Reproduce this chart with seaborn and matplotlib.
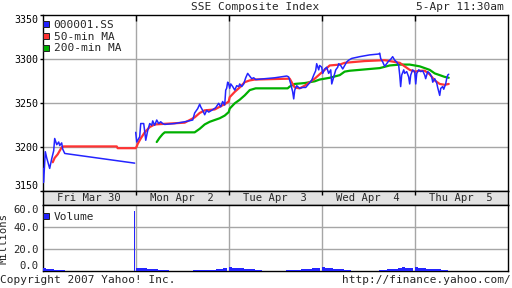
import numpy as np
import pandas as pd
import matplotlib
matplotlib.use("Agg")
import matplotlib.pyplot as plt
import seaborn as sns
from matplotlib.lines import Line2D

# ---------------- data ----------------
day_labels = ["Fri Mar 30", "Mon Apr  2", "Tue Apr  3", "Wed Apr  4", "Thu Apr  5"]
price_ticks = [3150, 3200, 3250, 3300, 3350]
volume_ticks = [0, 20, 40, 60]

# time axis: trading days since Fri Mar 30 open
price_fri_t = [0.004, 0.008, 0.016, 0.028, 0.043, 0.075, 0.097, 0.118, 0.129, 0.151, 0.172,
               0.183, 0.204, 0.215, 0.237, 0.989]
price_fri_v = [3176, 3160, 3172, 3195, 3188, 3176, 3187, 3196, 3210, 3203, 3206,
               3202, 3205, 3198, 3193, 3182]

price_t = [1.000, 1.011, 1.032, 1.043, 1.054, 1.086, 1.097, 1.108, 1.129, 1.151,
           1.172, 1.183, 1.204, 1.226, 1.247, 1.269, 1.290, 1.312, 1.419, 1.527,
           1.613, 1.634, 1.667, 1.688, 1.699, 1.720, 1.742, 1.763, 1.785, 1.817,
           1.860, 1.892, 1.914, 1.935, 1.957, 1.968, 1.978, 1.989,
           2.000, 2.011, 2.022, 2.043, 2.065, 2.086, 2.108, 2.118, 2.140, 2.161,
           2.183, 2.204, 2.226, 2.247, 2.269, 2.290, 2.387, 2.495, 2.624, 2.645,
           2.667, 2.688, 2.699, 2.710, 2.731, 2.763, 2.796, 2.828, 2.860, 2.892,
           2.914, 2.935, 2.946, 2.968, 2.978,
           3.000, 3.011, 3.032, 3.054, 3.075, 3.097, 3.108, 3.129, 3.151, 3.172,
           3.183, 3.204, 3.226, 3.247, 3.269, 3.290, 3.323, 3.409, 3.516, 3.613,
           3.624, 3.634, 3.656, 3.677, 3.699, 3.720, 3.742, 3.763, 3.785, 3.806,
           3.828, 3.839, 3.849, 3.860, 3.882, 3.892, 3.914, 3.935, 3.946, 3.957,
           3.978, 4.000, 4.011, 4.022, 4.043, 4.065, 4.086, 4.108, 4.118, 4.140,
           4.161, 4.183, 4.194, 4.215, 4.237, 4.247, 4.269, 4.280, 4.301, 4.312,
           4.333, 4.344, 4.355, 4.366]
price_v = [3217, 3206, 3210, 3212, 3227, 3227, 3218, 3208, 3219, 3227,
           3225, 3230, 3225, 3231, 3227, 3229, 3227, 3226, 3227, 3229,
           3231, 3239, 3244, 3249, 3246, 3242, 3237, 3242, 3240, 3242,
           3245, 3250, 3246, 3252, 3248, 3265, 3267, 3274,
           3272, 3267, 3272, 3269, 3265, 3270, 3269, 3272, 3269, 3272,
           3279, 3284, 3281, 3278, 3279, 3277, 3278, 3279, 3281, 3280,
           3272, 3263, 3255, 3265, 3270, 3267, 3268, 3268, 3272, 3276,
           3282, 3287, 3295, 3288, 3293,
           3291, 3284, 3289, 3291, 3284, 3288, 3272, 3280, 3288, 3291,
           3295, 3293, 3289, 3293, 3297, 3299, 3301, 3303, 3305, 3306,
           3307, 3301, 3297, 3292, 3295, 3298, 3300, 3303, 3299, 3297,
           3293, 3282, 3269, 3282, 3288, 3284, 3286, 3280, 3272, 3282,
           3288, 3286, 3272, 3284, 3288, 3286, 3287, 3282, 3278, 3286,
           3284, 3280, 3274, 3278, 3273, 3268, 3259, 3267, 3269, 3266,
           3272, 3278, 3282, 3283]

ma50_t = [0.108, 0.129, 0.161, 0.204, 0.226, 0.796, 0.806, 1.000,
          1.011, 1.022, 1.054, 1.097, 1.151, 1.204, 1.527, 1.581, 1.634, 1.688,
          1.742, 1.849, 1.903, 1.957, 2.000,
          2.011, 2.065, 2.118, 2.172, 2.226, 2.280, 2.656, 2.677, 2.710, 2.763,
          2.817, 2.871, 2.925, 2.978,
          3.032, 3.086, 3.194, 3.247, 3.355, 3.462, 3.677, 3.785, 3.839, 3.892,
          3.946, 4.000, 4.054, 4.108, 4.161, 4.215, 4.269, 4.323, 4.366]
ma50_v = [3183, 3188, 3192, 3200, 3201, 3201, 3199, 3199,
          3201, 3204, 3210, 3217, 3223, 3226, 3228, 3231, 3234, 3239,
          3242, 3243, 3246, 3249, 3252,
          3257, 3263, 3268, 3274, 3276, 3277, 3278, 3274, 3268, 3267,
          3270, 3274, 3278, 3283,
          3288, 3293, 3294, 3296, 3297, 3298, 3299, 3297, 3296, 3292,
          3288, 3286, 3287, 3287, 3283, 3276, 3272, 3271, 3272]

ma200_t = [1.226, 1.258, 1.290, 1.312, 1.634, 1.688, 1.742, 1.796, 1.849, 1.903,
           1.957, 2.000, 2.011, 2.065, 2.118, 2.172, 2.226, 2.290, 2.634, 2.656,
           2.710, 2.817, 2.925, 2.978, 3.086, 3.194, 3.247, 3.301, 3.409, 3.516,
           3.624, 3.731, 3.839, 3.946, 4.000, 4.054, 4.108, 4.161, 4.215, 4.269,
           4.323, 4.366]
ma200_v = [3206, 3211, 3215, 3217, 3217, 3221, 3226, 3229, 3231, 3233,
           3236, 3240, 3244, 3250, 3254, 3259, 3265, 3267, 3267, 3269,
           3272, 3273, 3275, 3277, 3279, 3282, 3286, 3287, 3288, 3289,
           3290, 3293, 3294, 3294, 3293, 3292, 3290, 3288, 3284, 3282,
           3280, 3279]

# volume (millions): session start times and bar heights
vol_session_start = [0.00, 1.00, 1.62, 2.00, 2.62, 3.00, 3.62, 4.00]
vol_session_values = [
    [3.4, 2.4, 2.2, 1.6, 1.4, 1.2],
    [3.0, 2.6, 2.6, 2.2, 2.0, 1.8, 1.6, 1.6, 1.4],
    [1.2, 1.2, 1.4, 1.4, 1.6, 1.6, 1.8, 2.0, 3.2],
    [3.6, 2.8, 3.0, 2.6, 2.4, 2.0, 2.0, 1.6, 1.4],
    [1.2, 1.4, 1.6, 1.6, 1.8, 2.2, 2.4, 2.8, 3.4],
    [3.6, 3.0, 2.6, 2.4, 2.0, 1.8, 1.6, 1.4],
    [1.4, 1.6, 1.8, 2.0, 2.4, 2.8, 3.8, 3.0, 3.2],
    [3.6, 2.8, 2.6, 2.4, 2.4, 2.0, 1.8, 1.6, 1.4],
]
vol_spike_t = 0.985
vol_spike_v = 55.0

# ---------------- style ----------------
sns.set_style("white")
plt.rcParams["font.family"] = ["DejaVu Sans Mono", "DejaVu Sans"]
FS = 7.2
BLUE, RED, GREEN = "#2424ff", "#ff3333", "#00b000"
GRID = "#a6a6a6"

W, H = 512, 288
fig = plt.figure(figsize=(W / 100, H / 100), dpi=100)
fig.patch.set_facecolor("white")

L, R = 42.7, 507.7
ax = fig.add_axes([L / W, 1 - 191.3 / H, (R - L) / W, 176 / H])
band = fig.add_axes([L / W, 1 - 205.3 / H, (R - L) / W, 14 / H])
axv = fig.add_axes([L / W, 1 - 271.3 / H, (R - L) / W, 66 / H])

for a in (ax, band, axv):
    a.set_xlim(0, 5)
    for s in a.spines.values():
        s.set_color("black")
        s.set_linewidth(1.0)
        s.set_visible(True)

# ---- main price panel ----
ax.set_ylim(3150, 3350)
for y in price_ticks[1:-1]:
    ax.axhline(y, color=GRID, lw=1.0, zorder=0)
for d in range(1, 5):
    ax.axvline(d, color=GRID, lw=1.0, zorder=0)

df_ma200 = pd.DataFrame({"t": ma200_t, "v": ma200_v})
df_ma50 = pd.DataFrame({"t": ma50_t, "v": ma50_v})
df_fri = pd.DataFrame({"t": price_fri_t, "v": price_fri_v})
df_px = pd.DataFrame({"t": price_t, "v": price_v})
sns.lineplot(data=df_ma200, x="t", y="v", ax=ax, color=GREEN, lw=1.6, estimator=None, sort=False, zorder=2)
sns.lineplot(data=df_ma50, x="t", y="v", ax=ax, color=RED, lw=1.6, estimator=None, sort=False, zorder=3)
sns.lineplot(data=df_fri, x="t", y="v", ax=ax, color=BLUE, lw=1.1, estimator=None, sort=False, zorder=4)
sns.lineplot(data=df_px, x="t", y="v", ax=ax, color=BLUE, lw=1.1, estimator=None, sort=False, zorder=4)

ax.set_xlabel("")
ax.set_ylabel("")
ax.set_xticks([1, 2, 3, 4])
ax.tick_params(axis="x", which="both", direction="in", length=4, top=True, bottom=False,
               labelbottom=False, width=1, color="black")
ax.set_yticks(price_ticks)
ax.set_yticklabels([str(v) for v in price_ticks])
ax.tick_params(axis="y", direction="out", length=2, width=1, pad=1, labelsize=FS,
               left=True, right=False, colors="black")
ax.get_yticklabels()[-1].set_va("top")
ax.get_yticklabels()[0].set_va("bottom")

handles = [Line2D([], [], marker="s", ls="", markersize=5, markerfacecolor=c,
                  markeredgecolor="#222222", markeredgewidth=0.7)
           for c in (BLUE, RED, GREEN)]
ax.legend(handles, ["000001.SS", "50-min MA", "200-min MA"], loc="upper left",
          bbox_to_anchor=(-0.004, 0.985), frameon=False, fontsize=FS + 0.8,
          handlelength=0.6, handletextpad=0.35, labelspacing=0.15, borderpad=0.2,
          borderaxespad=0.0)

# ---- date band ----
band.set_facecolor("#e2e2e2")
band.set_ylim(0, 1)
band.set_yticks([])
band.set_xticks([1, 2, 3, 4])
band.tick_params(axis="x", direction="in", length=3, top=True, bottom=False,
                 labelbottom=False, width=1, color="black")
for i, lab in enumerate(day_labels):
    band.text(i + 0.5, 0.5, lab, ha="center", va="center", fontsize=FS + 0.4)

# ---- volume panel ----
axv.set_ylim(0, 60)
for y in volume_ticks[1:-1]:
    axv.axhline(y, color=GRID, lw=1.0, zorder=0)
for d in range(1, 5):
    axv.axvline(d, color=GRID, lw=1.0, zorder=0)

vt, vv = [], []
for st, vals in zip(vol_session_start, vol_session_values):
    for i, v in enumerate(vals):
        vt.append(st + 0.04 * i)
        vv.append(v)
axv.bar(vt, vv, width=0.04, align="edge", color=BLUE, linewidth=0, zorder=3)
axv.bar([vol_spike_t], [vol_spike_v], width=0.012, align="center", color=BLUE,
        linewidth=0, zorder=3)

axv.set_xticks([1, 2, 3, 4])
axv.tick_params(axis="x", direction="in", length=0, labelbottom=False, bottom=False)
axv.set_yticks(volume_ticks)
axv.set_yticklabels([f"{v:.1f}" for v in volume_ticks])
axv.tick_params(axis="y", direction="out", length=2, width=1, pad=1, labelsize=FS + 0.4)
axv.get_yticklabels()[-1].set_va("top")
axv.get_yticklabels()[0].set_va("bottom")
axv.set_ylabel("Millions", fontsize=FS + 0.4, labelpad=3)
vh = [Line2D([], [], marker="s", ls="", markersize=5, markerfacecolor=BLUE,
             markeredgecolor="#222222", markeredgewidth=0.7)]
axv.legend(vh, ["Volume"], loc="upper left", bbox_to_anchor=(-0.004, 0.93),
           frameon=False, fontsize=FS + 0.8, handlelength=0.6, handletextpad=0.35,
           borderpad=0.2, borderaxespad=0.0)

# ---- texts ----
fig.text(255.5 / W, 1 - 7 / H, "SSE Composite Index", ha="center", va="center", fontsize=FS + 0.8)
fig.text(504 / W, 1 - 7 / H, "5-Apr 11:30am", ha="right", va="center", fontsize=FS + 0.8)
fig.text(0.5 / W, 1 - 280 / H, "Copyright 2007 Yahoo! Inc.", ha="left", va="center", fontsize=FS + 0.8)
fig.text(511 / W, 1 - 280 / H, "http://finance.yahoo.com/", ha="right", va="center", fontsize=FS + 0.8)

fig.savefig("out.png", dpi=100, facecolor="white")
